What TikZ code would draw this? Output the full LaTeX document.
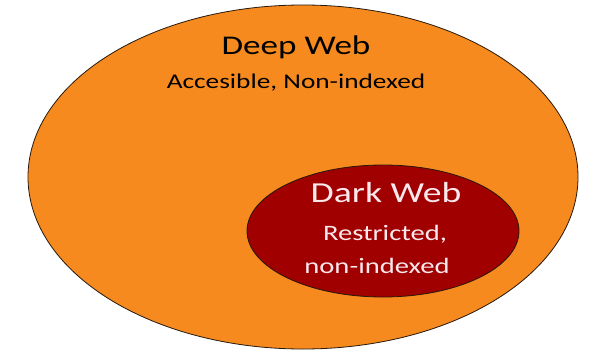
\documentclass[tikz,border=0pt]{standalone}
\usepackage{fontspec}
\setmainfont{Carlito}
\usepackage{graphicx}
\definecolor{deeporange}{RGB}{246,138,30}
\definecolor{darkred}{RGB}{160,0,0}
\definecolor{palepink}{RGB}{250,232,236}
\newcommand\stretchtext[1]{\scalebox{1.3}[1]{#1}}
\tikzset{
  blob/.style={draw=black!80!brown, line width=0.8pt},
  label/.style={inner sep=0pt},
}
\begin{document}
\begin{tikzpicture}[x=1pt,y=-1pt]
  \fill[white] (0,0) rectangle (591,353);
  \useasboundingbox (0,0) rectangle (591,353);
  % outer region
  \draw[blob, fill=deeporange] (303,177) ellipse [x radius=275, y radius=172];
  % inner region
  \draw[blob, fill=darkred] (383,231) ellipse [x radius=136, y radius=66];
  \node[label, font=\fontsize{27}{30}\selectfont] (deep) at (296,47) {\stretchtext{Deep Web}};
  \node[label, font=\fontsize{21}{24}\selectfont] (deepsub) at (296,83) {\stretchtext{Accesible, Non-indexed}};
  \node[label, text=palepink, font=\fontsize{29}{32}\selectfont] (dark) at (386,193) {\stretchtext{Dark Web}};
  \node[label, text=palepink, font=\fontsize{22}{25}\selectfont] (darksub1) at (385,234) {\stretchtext{Restricted,}};
  \node[label, text=palepink, font=\fontsize{22}{25}\selectfont] (darksub2) at (377,266) {\stretchtext{non-indexed}};
\end{tikzpicture}
\end{document}
